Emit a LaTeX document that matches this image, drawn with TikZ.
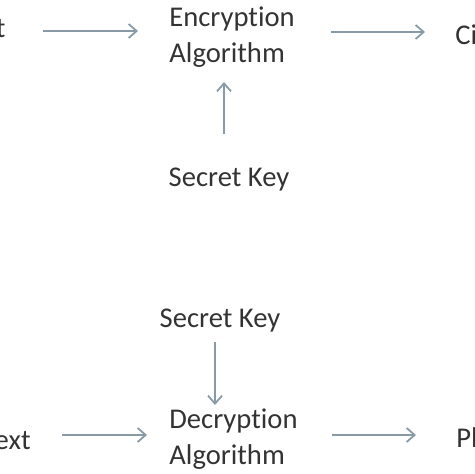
\documentclass[tikz,border=0pt]{standalone}
\usepackage{fontspec}
\setmainfont{Carlito}[Ligatures=NoCommon]
\usetikzlibrary{arrows.meta}
\definecolor{txtgray}{HTML}{333333}
\definecolor{arrowgray}{HTML}{889AA6}
\tikzset{
    label/.style={inner sep=0pt, text=txtgray},
    block/.style={label, align=left, anchor=west},
    link/.style={draw=arrowgray, line width=0.9pt, -{Straight Barb[length=4pt,width=7pt]}}
}
\begin{document}
\begin{tikzpicture}[x=0.5pt, y=0.5pt, font=\fontsize{14.3}{18.3}\selectfont]
        \useasboundingbox (0,0) rectangle (474,474);
        % encryption
        \node[label, anchor=base east] (plain) at (6,436) {Plain Text};
        \node[block] (enc) at (169,437) {Encryption\\Algorithm};
        \node[label, anchor=base west] (cipher) at (455,429) {Cipher Text};
        \node[label, anchor=base] (enckey) at (229,287) {Secret Key};
        \draw[link, shorten <=18.5pt, shorten >=15.5pt] ([yshift=3pt]enc.west -| plain.east) -- ([yshift=3pt]enc.west);
        \draw[link, shorten <=18pt, shorten >=15pt] ([yshift=2.5pt]enc.east) -- ([yshift=2.5pt]enc.east -| cipher.west);
        \draw[link, shorten <=17pt, shorten >=7pt] ([xshift=-2.5pt]enckey.north) -- ([xshift=-2.5pt]enckey.north |- enc.south);
        % decryption
        \node[label, anchor=base east] (cipher2) at (31,24) {Cipher Text};
        \node[block] (dec) at (169,35) {Decryption\\Algorithm};
        \node[label, anchor=base west] (plain2) at (456,26) {Plain Text};
        \node[label, anchor=base] (deckey) at (220,146) {Secret Key};
        \draw[link, shorten <=15.5pt, shorten >=11pt] ([yshift=2pt]dec.west -| cipher2.east) -- ([yshift=2pt]dec.west);
        \draw[link, shorten <=17pt, shorten >=20pt] ([yshift=2pt]dec.east) -- ([yshift=2pt]dec.east -| plain2.west);
        \draw[link, shorten <=4.5pt, shorten >=1.5pt] ([xshift=-2.5pt]deckey.south) -- ([xshift=-2.5pt]deckey.south |- dec.north);
\end{tikzpicture}
\end{document}
